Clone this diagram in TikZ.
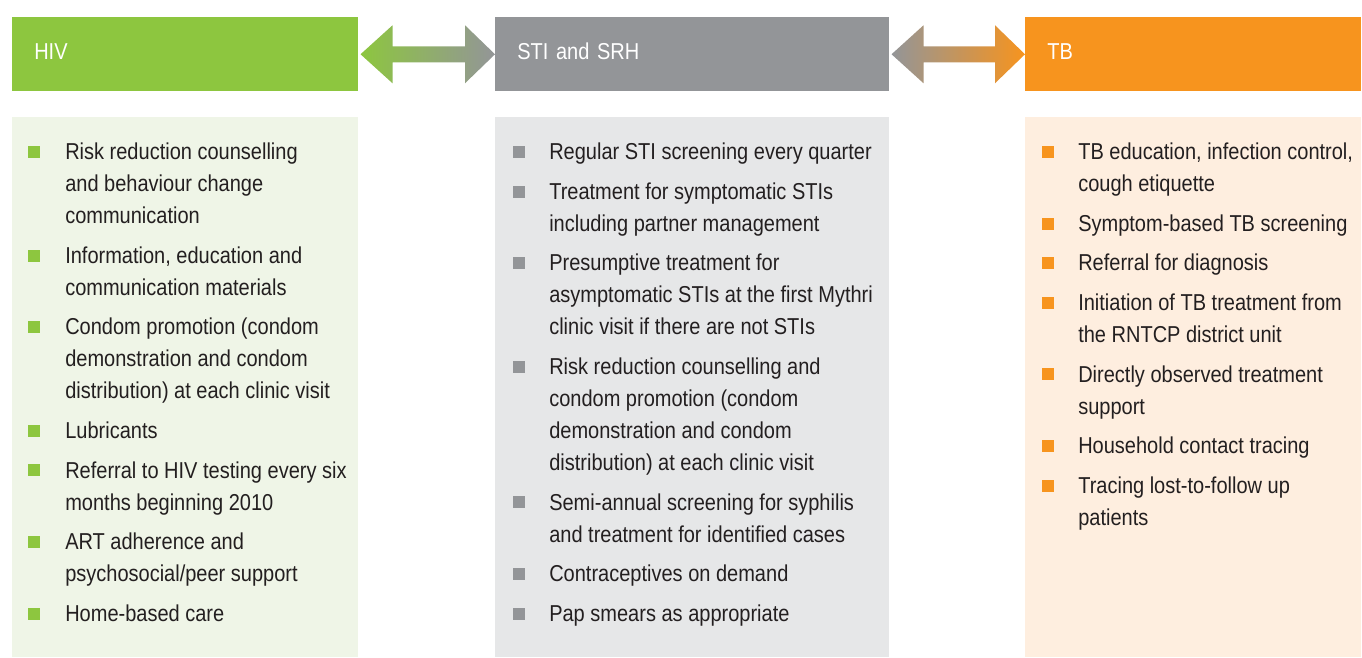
\documentclass[tikz,border=0pt]{standalone}
\usepackage{fontspec}
\setmainfont{Liberation Sans}[FakeStretch=0.87]
\usetikzlibrary{positioning,calc}
\definecolor{hivgreen}{HTML}{8DC63F}
\definecolor{stigray}{HTML}{939598}
\definecolor{tborange}{HTML}{F7941E}
\definecolor{hivlight}{HTML}{EFF5E7}
\definecolor{stilight}{HTML}{E6E7E8}
\definecolor{tblight}{HTML}{FEEEDF}
\definecolor{ink}{HTML}{231F20}
\tikzset{
  head/.style={anchor=north west, inner xsep=16.5pt, inner ysep=0pt, text height=31.5pt, text depth=24pt, text=white, align=left},
  item/.style={anchor=north west, inner sep=0pt, text width=225pt, align=flush left, text=ink, execute at begin node=\strut, execute at end node=\strut},
}
\begin{document}
\begin{tikzpicture}[x=0.75pt, y=-0.75pt, font=\fontsize{17.25}{24}\selectfont]
\useasboundingbox (0,0) rectangle (1362,657);
% headers
\node[head, fill=hivgreen, text width=226.5pt] (hiv) at (12,17) {HIV};
\node[head, fill=stigray, text width=262.5pt] (sti) at (495,17) {STI and SRH};
\node[head, fill=tborange, text width=219pt] (tb) at (1025,17) {TB};
% double arrows between the headers
\shade[left color=hivgreen, right color=stigray]
  ([xshift=1.5pt]hiv.east) -- ++(32,-29) -- ++(0,21) -- ($(sti.west)+(-30,-8)$) -- ++(0,-21)
  -- (sti.west) -- ++(-30,29) -- ++(0,-21) -- ($([xshift=1.5pt]hiv.east)+(32,8)$) -- ++(0,21) -- cycle;
\shade[left color=stigray, right color=tborange]
  ([xshift=1.5pt]sti.east) -- ++(32,-29) -- ++(0,21) -- ($(tb.west)+(-30,-8)$) -- ++(0,-21)
  -- (tb.west) -- ++(-30,29) -- ++(0,-21) -- ($([xshift=1.5pt]sti.east)+(32,8)$) -- ++(0,21) -- cycle;
% column backgrounds
\fill[hivlight] (12,117) rectangle (358,657);
\fill[stilight] (495,117) rectangle (889,657);
\fill[tblight] (1025,117) rectangle (1361,657);
% HIV
\node[item] (h1) at (65,137) {Risk reduction counselling\\and behaviour change\\communication};
\node[item, below=5.3pt of h1.south west, anchor=north west] (h2) {Information, education and\\communication materials};
\node[item, below=5.3pt of h2.south west, anchor=north west] (h3) {Condom promotion (condom\\demonstration and condom\\distribution) at each clinic visit};
\node[item, below=5.3pt of h3.south west, anchor=north west] (h4) {Lubricants};
\node[item, below=5.3pt of h4.south west, anchor=north west] (h5) {Referral to HIV testing every six\\months beginning 2010};
\node[item, below=5.3pt of h5.south west, anchor=north west] (h6) {ART adherence and\\psychosocial/peer support};
\node[item, below=5.3pt of h6.south west, anchor=north west] (h7) {Home-based care};
% STI and SRH
\node[item, text width=252pt] (s1) at (549,137) {Regular STI screening every quarter};
\node[item, text width=252pt, below=5.3pt of s1.south west, anchor=north west] (s2) {Treatment for symptomatic STIs\\including partner management};
\node[item, text width=252pt, below=5.3pt of s2.south west, anchor=north west] (s3) {Presumptive treatment for\\asymptomatic STIs at the first Mythri\\clinic visit if there are not STIs};
\node[item, text width=252pt, below=5.3pt of s3.south west, anchor=north west] (s4) {Risk reduction counselling and\\condom promotion (condom\\demonstration and condom\\distribution) at each clinic visit};
\node[item, text width=252pt, below=5.3pt of s4.south west, anchor=north west] (s5) {Semi-annual screening for syphilis\\and treatment for identified cases};
\node[item, text width=252pt, below=5.3pt of s5.south west, anchor=north west] (s6) {Contraceptives on demand};
\node[item, text width=252pt, below=5.3pt of s6.south west, anchor=north west] (s7) {Pap smears as appropriate};
% TB
\node[item, text width=214pt] (t1) at (1078,137) {TB education, infection control,\\cough etiquette};
\node[item, text width=214pt, below=5.3pt of t1.south west, anchor=north west] (t2) {Symptom-based TB screening};
\node[item, text width=214pt, below=5.3pt of t2.south west, anchor=north west] (t3) {Referral for diagnosis};
\node[item, text width=214pt, below=5.3pt of t3.south west, anchor=north west] (t4) {Initiation of TB treatment from\\the RNTCP district unit};
\node[item, text width=214pt, below=5.3pt of t4.south west, anchor=north west] (t5) {Directly observed treatment\\support};
\node[item, text width=214pt, below=5.3pt of t5.south west, anchor=north west] (t6) {Household contact tracing};
\node[item, text width=214pt, below=5.3pt of t6.south west, anchor=north west] (t7) {Tracing lost-to-follow up\\patients};
% square bullets
\foreach \n in {1,...,7} {
  \fill[hivgreen] ([shift={(-37,9)}]h\n.north west) rectangle ++(12,12);
  \fill[stigray] ([shift={(-36,9)}]s\n.north west) rectangle ++(12,12);
  \fill[tborange] ([shift={(-36,9)}]t\n.north west) rectangle ++(12,12);
}
\end{tikzpicture}
\end{document}
